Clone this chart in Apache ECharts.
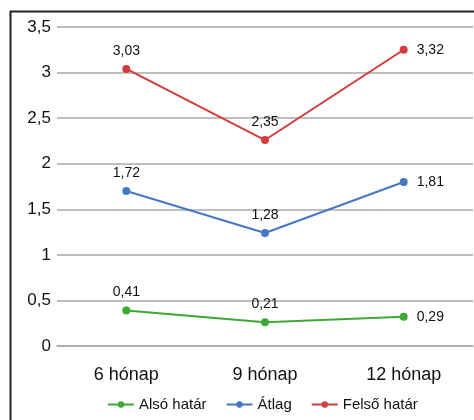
<!DOCTYPE html>
<html>
<head>
<meta charset="utf-8">
<script src="https://cdn.jsdelivr.net/npm/echarts@6/dist/echarts.min.js"></script>
<style>
  html, body { margin: 0; padding: 0; background: #fff; }
  #chart { width: 474px; height: 420px; }
</style>
</head>
<body>
<div id="chart"></div>
<script>
const categories = ['6 hónap', '9 hónap', '12 hónap'];
const seriesNames = ['Alsó határ', 'Átlag', 'Felső határ'];
const seriesColors = ['#3aa935', '#4677c4', '#d23c3c'];
// plotted positions
const lowerValues = [0.39, 0.26, 0.32];
const meanValues = [1.70, 1.24, 1.80];
const upperValues = [3.04, 2.26, 3.25];
// printed data labels
const lowerLabels = ['0,41', '0,21', '0,29'];
const meanLabels = ['1,72', '1,28', '1,81'];
const upperLabels = ['3,03', '2,35', '3,32'];

const font = 'Arial, "Liberation Sans", sans-serif';

const makeSeries = (name, values, labels, color) => ({
  name,
  type: 'line',
  data: values.map((v, i) => ({
    value: v,
    label: {
      position: i === values.length - 1 ? 'right' : 'top',
      distance: i === values.length - 1 ? 9 : 7,
    },
  })),
  symbol: 'circle',
  symbolSize: 8,
  lineStyle: { width: 2, color },
  itemStyle: { color },
  label: {
    show: true,
    fontSize: 14,
    fontFamily: font,
    color: '#111',
    formatter: (p) => labels[p.dataIndex],
  },
});

const chart = echarts.init(document.getElementById('chart'), null, { renderer: 'canvas' });
chart.setOption({
  animation: false,
  backgroundColor: '#fff',
  grid: { left: 57, right: 1, top: 27, bottom: 74, containLabel: false },
  legend: {
    bottom: 3,
    left: 102,
    itemWidth: 26,
    itemHeight: 8,
    itemGap: 19,
    textStyle: { fontSize: 15, fontFamily: font, color: '#111' },
    data: seriesNames,
  },
  xAxis: {
    type: 'category',
    data: categories,
    axisLine: { lineStyle: { color: '#aaa', width: 1.5 } },
    axisTick: { show: false },
    axisLabel: { fontSize: 18, fontFamily: font, color: '#111', margin: 20 },
  },
  yAxis: {
    type: 'value',
    min: 0,
    max: 3.5,
    interval: 0.5,
    axisLine: { show: false },
    axisTick: { show: false },
    splitLine: { lineStyle: { color: '#aaa', width: 1.5 } },
    axisLabel: {
      fontSize: 17,
      fontFamily: font,
      color: '#111',
      margin: 6,
      formatter: (v) => String(v).replace('.', ','),
    },
  },
  graphic: [{
    type: 'rect',
    left: 8,
    top: 9,
    shape: { width: 520, height: 480 },
    style: { fill: 'none', stroke: '#222', lineWidth: 2 },
    silent: true,
    z: 100,
  }],
  series: [
    makeSeries(seriesNames[0], lowerValues, lowerLabels, seriesColors[0]),
    makeSeries(seriesNames[1], meanValues, meanLabels, seriesColors[1]),
    makeSeries(seriesNames[2], upperValues, upperLabels, seriesColors[2]),
  ],
});
</script>
</body>
</html>
